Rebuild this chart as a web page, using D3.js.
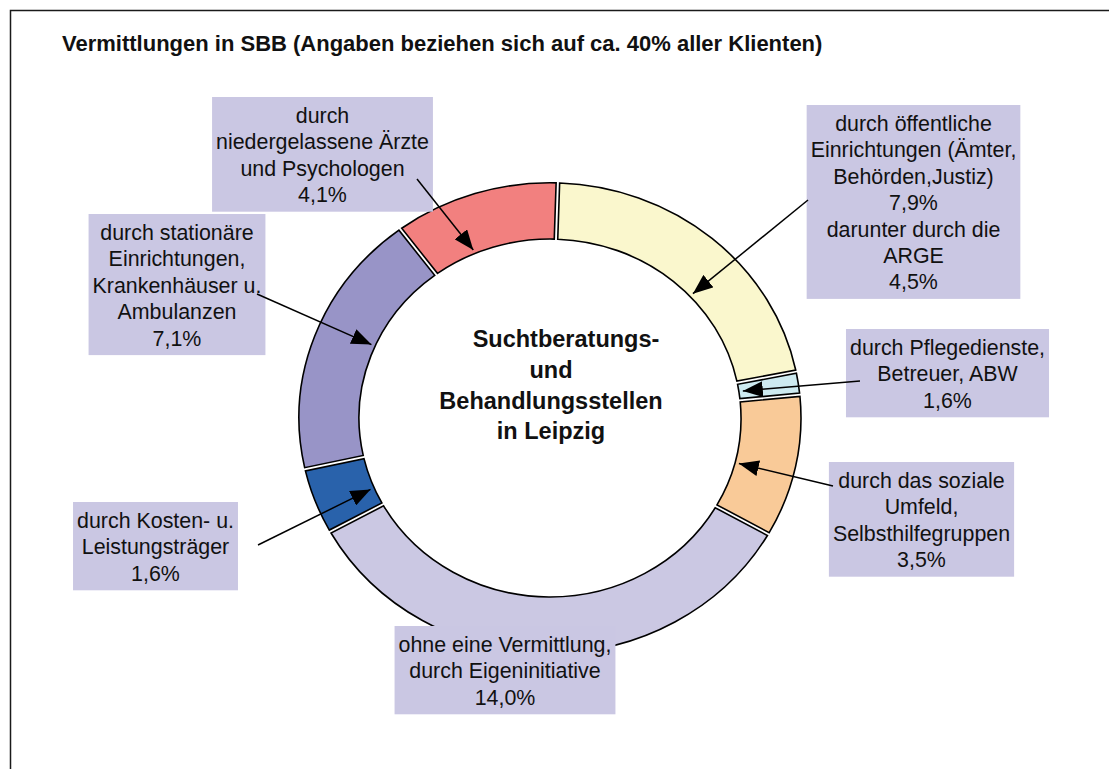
<!DOCTYPE html>
<html>
<head>
<meta charset="utf-8">
<script src="https://cdn.jsdelivr.net/npm/d3@7/dist/d3.min.js"></script>
<style>
  body { margin: 0; background: #ffffff; }
  text { font-family: "Liberation Sans", Arial, sans-serif; fill: #111; }
</style>
</head>
<body>
<div id="chart"></div>
<script>
const WIDTH = 1109;
const HEIGHT = 769;

// ring geometry (the printed ring is a little squashed vertically)
const CX = 550;
const CY = 418;
const SCALE_Y = 0.937;
const INNER_R = 191;
const OUTER_R = 251;
const START_DEG = 1.8;

const LABEL_FONT = 21.4;
const LINE_H = 26.4;
const PAD_TOP = 18.5;
const PAD_BOTTOM = 17;
const PAD_SIDE = 4;

// segments clockwise from the top
const categories = ["oeffentlich", "pflege", "umfeld", "ohne", "kosten", "stationaer", "aerzte"];
// share of each segment (percent of all clients)
const shares = [8.5, 0.63, 3.9, 13.45, 1.8, 7.3, 4.25];
// texts printed in the label boxes
const labelTexts = [
  ["durch öffentliche", "Einrichtungen (Ämter,", "Behörden,Justiz)", "7,9%", "darunter durch die", "ARGE", "4,5%"],
  ["durch Pflegedienste,", "Betreuer, ABW", "1,6%"],
  ["durch das soziale", "Umfeld,", "Selbsthilfegruppen", "3,5%"],
  ["ohne eine Vermittlung,", "durch Eigeninitiative", "14,0%"],
  ["durch Kosten- u.", "Leistungsträger", "1,6%"],
  ["durch stationäre", "Einrichtungen,", "Krankenhäuser u.", "Ambulanzen", "7,1%"],
  ["durch", "niedergelassene Ärzte", "und Psychologen", "4,1%"]
];
const centerLines = ["Suchtberatungs-", "und", "Behandlungsstellen", "in Leipzig"];
const title = "Vermittlungen in SBB (Angaben beziehen sich auf ca. 40% aller Klienten)";

const COLORS = {
  oeffentlich: "#FAF7CD",
  pflege: "#CDEAF0",
  umfeld: "#F9CA98",
  ohne: "#CBC8E3",
  kosten: "#2962AB",
  stationaer: "#9894C7",
  aerzte: "#F2807F"
};
const BOX_FILL = "#CAC7E3";

// where each label box sits, where its arrow starts and where in the segment it points
const LAYOUT = {
  oeffentlich: { cx: 913.5, top: 105, from: [808, 200], tipFrac: 0.59 },
  pflege:      { cx: 947.5, top: 329, from: [860, 381], tipFrac: 0.5 },
  umfeld:      { cx: 921.5, top: 462, from: [833, 486], tipFrac: 0.57 },
  ohne:        { cx: 505,   top: 626, from: null,       tipFrac: 0.5 },
  kosten:      { cx: 155.5, top: 502, from: [258, 545], tipFrac: 0.36 },
  stationaer:  { cx: 177,   top: 214, from: [257, 294], tipFrac: 0.55 },
  aerzte:      { cx: 322.5, top: 97,  from: [417, 179], tipFrac: 0.35 }
};

function setCanvas() {
  let svg = d3.select("#chart")
    .append("svg")
    .attr("width", WIDTH)
    .attr("height", HEIGHT)
    .style("background-color", "#FFFFFF");

  svg.append("defs")
    .append("marker")
    .attr("id", "head")
    .attr("viewBox", "0 0 20 16")
    .attr("refX", 20)
    .attr("refY", 8)
    .attr("markerWidth", 20)
    .attr("markerHeight", 16)
    .attr("markerUnits", "userSpaceOnUse")
    .attr("orient", "auto")
    .append("path")
    .attr("d", "M0,0 L20,8 L0,16 Z")
    .attr("fill", "#000");

  // chart frame (only top and left edges are inside the picture)
  svg.append("path")
    .attr("d", "M10.5," + HEIGHT + " V10.5 H" + WIDTH)
    .attr("fill", "none")
    .attr("stroke", "#1a1a1a")
    .attr("stroke-width", 1.5);

  return svg;
}

function drawTitle(canvas) {
  canvas.append("text")
    .attr("x", 62)
    .attr("y", 43)
    .attr("dy", "0.35em")
    .style("font-size", "22px")
    .style("font-weight", "bold")
    .text(title);
}

function setPie() {
  let data = categories.map((c, i) => ({ name: c, value: shares[i] }));
  let start = START_DEG * Math.PI / 180;
  return d3.pie()
    .sort(null)
    .value(d => d.value)
    .startAngle(start)
    .endAngle(start + 2 * Math.PI)(data);
}

function drawRing(canvas, arcs) {
  let arc = d3.arc()
    .innerRadius(INNER_R)
    .outerRadius(OUTER_R)
    .padAngle(0.014)
    .padRadius(OUTER_R);

  let g = canvas.append("g")
    .attr("transform", "translate(" + CX + "," + CY + ") scale(1," + SCALE_Y + ")");

  g.selectAll(".slice")
    .data(arcs)
    .enter()
    .append("path")
    .attr("class", "slice")
    .attr("d", arc)
    .attr("fill", d => COLORS[d.data.name])
    .attr("stroke", "#000")
    .attr("stroke-width", 1.6)
    .attr("vector-effect", "non-scaling-stroke");
}

function drawCenterText(canvas) {
  let lineDx = [15, 0, 0, 0]; // first line is printed a bit to the right
  canvas.append("g")
    .selectAll("text")
    .data(centerLines)
    .enter()
    .append("text")
    .attr("x", (d, i) => CX + 1 + lineDx[i])
    .attr("y", (d, i) => 339 + i * 30.7)
    .attr("dy", "0.35em")
    .attr("text-anchor", "middle")
    .style("font-size", "23.5px")
    .style("font-weight", "bold")
    .text(d => d);
}

function drawLabels(canvas) {
  categories.forEach((c, i) => {
    let lay = LAYOUT[c];
    let lines = labelTexts[i];
    let g = canvas.append("g").attr("class", "label-box");
    let rect = g.append("rect").attr("fill", BOX_FILL);

    let texts = g.selectAll("text")
      .data(lines)
      .enter()
      .append("text")
      .attr("x", lay.cx)
      .attr("y", (d, k) => lay.top + PAD_TOP + k * LINE_H)
      .attr("dy", "0.35em")
      .attr("text-anchor", "middle")
      .style("font-size", LABEL_FONT + "px")
      .text(d => d);

    let maxW = d3.max(texts.nodes(), n => n.getComputedTextLength());
    let w = maxW + 2 * PAD_SIDE;
    let h = PAD_TOP + (lines.length - 1) * LINE_H + PAD_BOTTOM;
    rect.attr("x", lay.cx - w / 2)
      .attr("y", lay.top)
      .attr("width", w)
      .attr("height", h);
  });
}

function drawArrows(canvas, arcs) {
  let withArrow = arcs.filter(d => LAYOUT[d.data.name].from);
  canvas.append("g")
    .selectAll("line")
    .data(withArrow)
    .enter()
    .append("line")
    .attr("x1", d => LAYOUT[d.data.name].from[0])
    .attr("y1", d => LAYOUT[d.data.name].from[1])
    .attr("x2", d => tipPoint(d)[0])
    .attr("y2", d => tipPoint(d)[1])
    .attr("stroke", "#000")
    .attr("stroke-width", 1.5)
    .attr("marker-end", "url(#head)");
}

function tipPoint(d) {
  let f = LAYOUT[d.data.name].tipFrac;
  let a = d.startAngle + (d.endAngle - d.startAngle) * f;
  let r = INNER_R + 4;
  return [CX + r * Math.sin(a), CY - r * Math.cos(a) * SCALE_Y];
}

function drawGraphic() {
  let canvas = setCanvas();
  drawTitle(canvas);
  let arcs = setPie();
  drawRing(canvas, arcs);
  drawCenterText(canvas);
  drawLabels(canvas);
  drawArrows(canvas, arcs);
}

drawGraphic();
</script>
</body>
</html>
